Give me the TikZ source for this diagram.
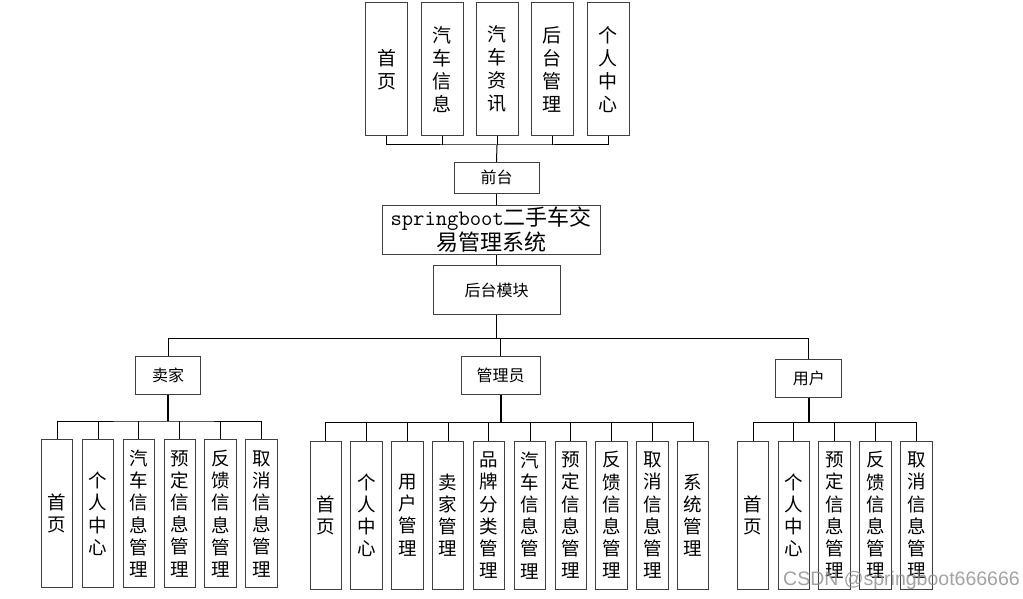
\documentclass[tikz,border=0pt]{standalone}
\usepackage{fontspec}
\setmainfont{Noto Sans CJK SC}
\newfontfamily\wmfont{Liberation Sans}
\begin{document}
\begin{tikzpicture}[x=1pt,y=-1pt,
  box/.style={draw=black!75,line width=1pt,inner sep=0pt,align=center,fill=white},
  tbox/.style={box,minimum width=42pt,minimum height=133.3pt,font=\fontsize{19}{23}\selectfont},
  bbox/.style={box,minimum width=31.4pt,minimum height=148pt,font=\fontsize{18.5}{22.2}\selectfont},
  hbox/.style={box,font=\fontsize{16}{19}\selectfont},
  conn/.style={draw=black,line width=1pt},
  hconn/.style={draw=black,line width=1.6pt}]
\useasboundingbox (0,0) rectangle (1023,599);

% top boxes
\foreach \x/\t [count=\i] in {386.7/{首\\页},442/{汽\\车\\信\\息},497/{汽\\车\\资\\讯},552.3/{后\\台\\管\\理},608/{个\\人\\中\\心}}
  \node[tbox] (t\i) at (\x,69.3) {\t};

\node[hbox,minimum width=85pt,minimum height=31pt] (qt) at (496.5,177.8) {前台};
\node[box,minimum width=217.7pt,minimum height=49.3pt,font=\fontsize{22}{25}\selectfont] (sb) at (491.2,229.7) {{\ttfamily springboot}二手车交\\易管理系统};
\node[hbox,minimum width=126.7pt,minimum height=49.3pt] (hm) at (496.7,290.3) {后台模块};

\coordinate (tb) at (497,145);
\draw[conn] (t1.south) |- (tb) -| (t5.south);
\foreach \i in {2,3,4} \draw[conn] (t\i.south) -- (t\i.south |- tb);
\draw[conn] (tb) -- (qt.north);
\draw[conn] (qt.south) -- (qt.south |- sb.north);
\draw[conn] (sb.south -| hm.north) -- (hm.north);

% roles
\node[hbox,minimum width=65.7pt,minimum height=37.6pt] (s) at (168,375.5) {卖家};
\node[hbox,minimum width=79.3pt,minimum height=37.6pt] (g) at (500.7,375.5) {管理员};
\node[hbox,minimum width=65.7pt,minimum height=38pt] (u) at (808.8,378.3) {用户};

\coordinate (mb) at (496.7,338.3);
\draw[conn] (hm.south) -- (mb);
\draw[conn] (s.north) |- (u.north |- mb) -- (u.north);
\draw[conn] (g.north) -- (g.north |- mb);

% seller boxes
\foreach \x/\t [count=\i] in {57.2/{首\\页},98/{个\\人\\中\\心},138.8/{汽\\车\\信\\息\\管\\理},179.8/{预\\定\\信\\息\\管\\理},220.5/{反\\馈\\信\\息\\管\\理},261.5/{取\\消\\信\\息\\管\\理}}
  \node[bbox] (s\i) at (\x,513.7) {\t};
\coordinate (sbus) at (168,421);
\draw[hconn] (s.south) -- (sbus);
\draw[conn] (s1.north) |- (sbus) -| (s6.north);
\foreach \i in {2,...,5} \draw[conn] (s\i.north) -- (s\i.north |- sbus);

% admin boxes
\foreach \x/\t [count=\i] in {325.7/{首\\页},366.3/{个\\人\\中\\心},407.3/{用\\户\\管\\理},448/{卖\\家\\管\\理},488.8/{品\\牌\\分\\类\\管\\理},530/{汽\\车\\信\\息\\管\\理},570.7/{预\\定\\信\\息\\管\\理},611.3/{反\\馈\\信\\息\\管\\理},652.3/{取\\消\\信\\息\\管\\理},693.2/{系\\统\\管\\理}}
  \node[bbox] (g\i) at (\x,515.2) {\t};
\coordinate (gbus) at (500.7,422.7);
\draw[hconn] (g.south) -- (gbus);
\draw[conn] (g1.north) |- (gbus) -| (g10.north);
\foreach \i in {2,...,9} \draw[conn] (g\i.north) -- (g\i.north |- gbus);

% user boxes
\foreach \x/\t [count=\i] in {753/{首\\页},793.8/{个\\人\\中\\心},834.5/{预\\定\\信\\息\\管\\理},875.3/{反\\馈\\信\\息\\管\\理},916.3/{取\\消\\信\\息\\管\\理}}
  \node[bbox] (u\i) at (\x,515.2) {\t};
\coordinate (ubus) at (808.8,422.7);
\draw[hconn] (u.south) -- (ubus);
\draw[conn] (u1.north) |- (ubus) -| (u5.north);
\foreach \i in {2,3,4} \draw[conn] (u\i.north) -- (u\i.north |- ubus);

% watermark
\node[anchor=west,inner sep=0pt,text=black!45,opacity=0.8,font=\wmfont\fontsize{19.5}{21}\selectfont] (wm) at (783,580.5) {CSDN @springboot666666};
\end{tikzpicture}
\end{document}
